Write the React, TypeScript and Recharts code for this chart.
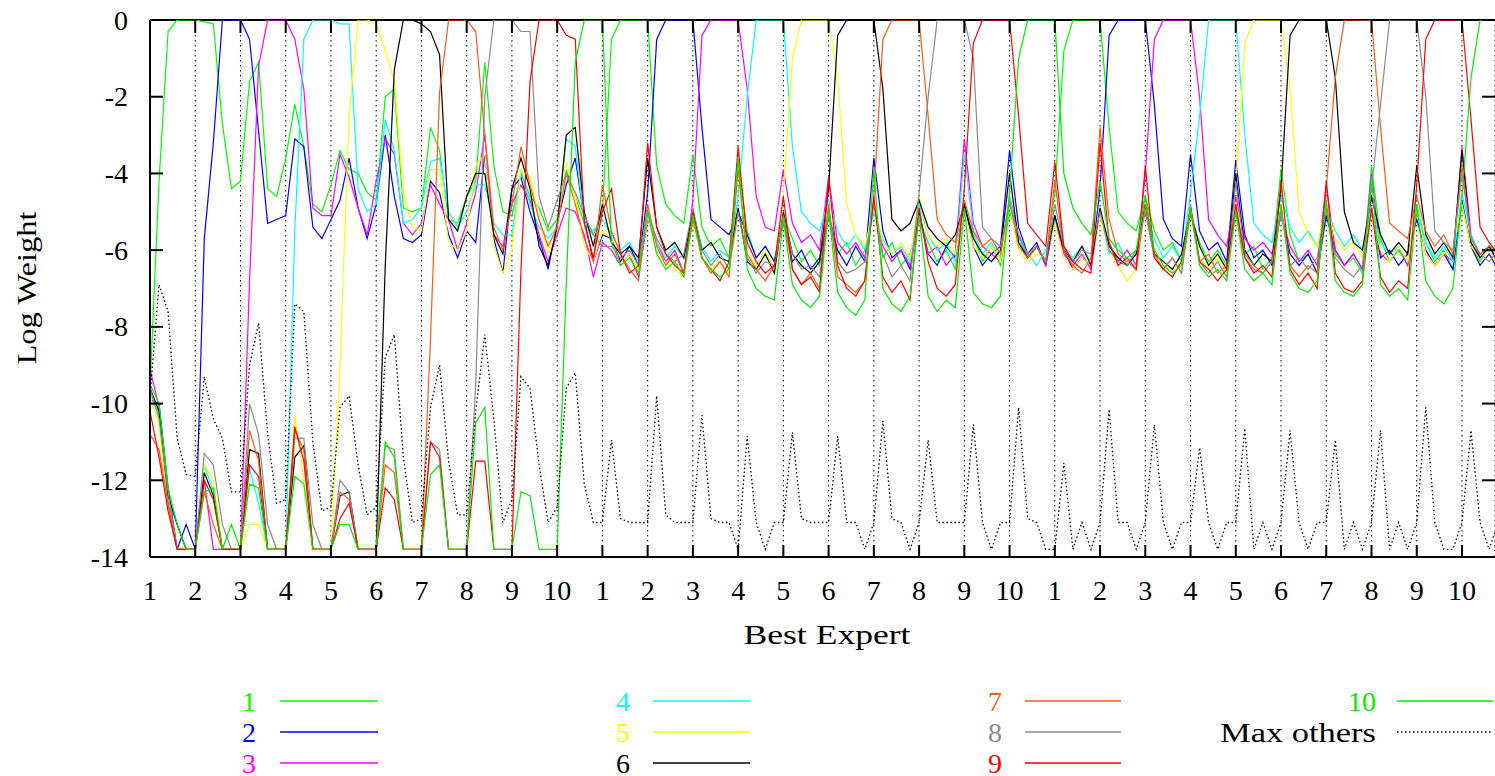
import React from "react";
import { LineChart, Line, XAxis, YAxis, CartesianGrid, Legend, ReferenceLine } from "recharts";

// every weight track is sampled every 0.2 of a "best expert" segment
const STEP = 0.2;

const EXPERT_1 = [
  -9.6, -4.2, -0.3, 0, 0, 0, -0.05, -0.1, -2.7, -4.4,
  -4.2, -1.6, -1.1, -4.4, -4.6, -3.6, -2.2, -3.3, -4.8, -5.0,
  -4.3, -3.4, -3.9, -4.0, -4.5, -4.7, -2.0, -1.8, -4.9, -5.0,
  -4.9, -2.8, -3.4, -5.2, -5.3, -4.6, -4.2, -1.1, -3.8, -5.0,
  -5.1, -4.0, -4.6, -4.9, -5.5, -5.2, -3.9, -4.6, -5.3, -5.6,
  -5.0, -0.5, 0, 0, 0, 0, -3.8, -4.8, -5.1, -5.3,
  -3.5, -5.4, -5.9, -5.7, -6.2, -3.7, -5.5, -6.2, -5.9, -6.3,
  -5.1, -5.7, -6.3, -6.0, -6.4, -5.0, -6.1, -5.8, -6.4, -6.0,
  -4.8, -6.2, -5.8, -6.4, -6.1, -5.2, -5.8, -6.3, -6.0, -6.5,
  -4.9, -5.6, -6.3, -5.9, -6.4, -5.0, -5.7, -6.2, -5.9, -6.3,
  -4.5, -0.8, 0, 0, 0, 0, -2.8, -5.0, -5.3, -5.5,
  -4.6, -5.5, -6.0, -5.8, -6.3, -5.1, -5.8, -6.3, -6.0, -6.4,
  -4.9, -6.1, -5.9, -6.5, -6.2, -3.9, -5.6, -6.3, -6.1, -6.6,
  -5.0, -6.1, -6.4, -6.2, -6.6, -3.8, -5.7, -6.3, -6.0, -6.4,
  -5.0, -5.8, -6.3, -6.0, -6.5, -4.8, -5.9, -6.3, -5.9, -6.4,
];

const EXPERT_2 = [
  -9.9, -10.0, -12.2, -13.8, -13.15, -13.8, -5.7, -3.2, 0, 0,
  0, -0.5, -2.9, -5.3, -5.2, -5.1, -3.1, -3.3, -5.4, -5.7,
  -5.2, -4.7, -3.6, -4.9, -5.7, -4.8, -3.0, -4.6, -5.7, -5.8,
  -5.6, -4.2, -4.5, -5.6, -6.2, -5.5, -5.8, -3.5, -5.7, -6.6,
  -4.4, -4.1, -5.0, -5.7, -6.5, -5.3, -4.3, -3.6, -5.2, -6.3,
  -5.6, -5.7, -6.3, -5.9, -6.4, -4.5, -0.5, 0, 0, 0,
  0, -2.8, -5.2, -5.4, -5.6, -5.0, -5.6, -6.2, -5.9, -6.3,
  -5.2, -6.3, -6.0, -6.5, -6.2, -5.1, -6.0, -6.4, -5.9, -6.3,
  -3.6, -5.5, -6.2, -6.0, -6.5, -5.0, -6.1, -6.4, -5.9, -6.2,
  -4.8, -5.9, -6.4, -6.1, -5.9, -3.4, -5.4, -6.1, -5.8, -6.4,
  -5.1, -6.0, -6.5, -6.2, -6.4, -4.4, -0.4, 0, 0, 0,
  0, -2.2, -5.2, -5.7, -5.9, -3.5, -5.5, -6.0, -5.8, -6.3,
  -3.65, -5.6, -6.2, -6.0, -6.4, -5.0, -6.1, -6.4, -6.1, -6.6,
  -5.1, -6.0, -6.4, -6.1, -6.5, -4.9, -6.2, -6.0, -6.4, -6.1,
  -5.2, -6.0, -6.4, -6.1, -6.5, -4.7, -5.9, -6.4, -6.1, -6.5,
];

const EXPERT_3 = [
  -9.1, -10.1, -12.6, -13.8, -13.8, -13.8, -12.0, -13.8, -13.8, -13.8,
  -13.8, -6.8, -1.2, 0, 0, 0, -0.5, -1.8, -4.9, -5.1,
  -5.1, -3.5, -4.1, -4.9, -5.6, -4.2, -3.1, -3.5, -5.3, -5.6,
  -5.3, -4.3, -4.8, -5.2, -6.0, -5.3, -4.5, -3.0, -5.6, -5.9,
  -4.8, -4.3, -4.7, -5.6, -6.3, -5.6, -4.9, -5.0, -5.6, -6.7,
  -5.8, -6.0, -6.4, -6.1, -6.7, -5.2, -5.8, -6.3, -6.0, -6.6,
  -4.7, -0.4, 0, 0, 0, 0, -1.8, -4.6, -5.4, -5.5,
  -3.9, -5.3, -5.8, -5.6, -6.0, -4.1, -5.8, -6.1, -5.8, -6.2,
  -4.9, -5.9, -6.3, -6.0, -6.4, -5.1, -6.1, -5.9, -6.4, -6.1,
  -3.1, -5.3, -5.9, -6.1, -6.3, -4.6, -5.6, -6.2, -5.9, -6.4,
  -5.2, -6.1, -6.4, -6.1, -6.5, -5.0, -5.8, -6.3, -6.0, -6.4,
  -4.0, -0.5, 0, 0, 0, 0, -2.0, -5.2, -5.6, -5.9,
  -4.6, -5.7, -6.0, -5.8, -6.1, -5.1, -5.9, -6.3, -6.0, -6.4,
  -4.3, -6.0, -6.4, -6.1, -6.5, -4.0, -6.1, -6.3, -5.9, -6.4,
  -4.9, -6.1, -6.4, -6.1, -6.3, -3.3, -5.6, -6.2, -5.9, -6.3,
];

const EXPERT_4 = [
  -9.7, -10.3, -12.5, -13.15, -13.8, -13.8, -11.6, -12.3, -13.8, -13.8,
  -13.8, -11.7, -12.6, -13.8, -13.8, -13.8, -5.5, -0.5, 0, 0,
  0, -0.1, -0.1, -4.4, -5.0, -4.8, -2.6, -3.4, -5.3, -5.2,
  -4.9, -3.7, -3.6, -5.0, -5.4, -5.0, -4.3, -4.3, -5.3, -5.6,
  -5.6, -3.9, -4.8, -5.4, -5.7, -5.4, -3.1, -3.3, -5.3, -5.5,
  -5.2, -5.6, -6.0, -5.8, -6.3, -5.0, -5.8, -6.2, -5.9, -6.2,
  -5.0, -5.9, -6.3, -6.0, -6.2, -4.6, -2.0, 0, 0, 0,
  0, -3.3, -5.0, -5.3, -5.5, -4.7, -5.5, -5.9, -5.6, -6.0,
  -5.0, -5.7, -6.1, -5.9, -6.3, -4.8, -5.6, -6.0, -5.8, -6.3,
  -3.5, -5.5, -6.1, -5.8, -6.2, -4.6, -5.7, -6.1, -6.4, -6.0,
  -5.2, -5.9, -6.2, -5.9, -6.3, -5.0, -6.1, -5.8, -6.4, -6.1,
  -4.9, -5.7, -6.2, -5.9, -6.3, -4.5, -2.5, 0, 0, 0,
  0, -3.0, -5.3, -5.6, -5.8, -4.6, -5.4, -5.8, -5.5, -5.9,
  -4.9, -5.5, -5.9, -5.6, -6.0, -4.9, -5.8, -6.1, -5.9, -6.3,
  -4.8, -5.8, -6.2, -5.9, -6.3, -4.5, -5.6, -6.1, -5.9, -6.1,
];

const EXPERT_5 = [
  -9.8, -10.6, -12.8, -13.8, -13.8, -13.8, -11.6, -12.0, -13.8, -13.8,
  -13.8, -13.15, -13.15, -13.8, -13.8, -13.8, -10.3, -12.0, -13.8, -13.8,
  -13.8, -9.0, -2.5, 0, 0, -0.1, -0.8, -1.6, -4.5, -5.4,
  -5.5, -3.9, -3.9, -5.8, -6.0, -5.5, -3.8, -3.5, -5.9, -6.6,
  -6.0, -3.9, -4.1, -5.2, -6.1, -5.5, -3.7, -4.6, -5.9, -6.3,
  -5.5, -5.7, -6.4, -6.1, -6.5, -5.1, -6.1, -6.3, -6.5, -6.7,
  -5.2, -6.2, -6.5, -6.3, -6.6, -5.0, -6.1, -6.4, -6.0, -6.5,
  -4.5, -1.0, 0, 0, 0, 0, -1.5, -4.8, -5.6, -5.9,
  -4.9, -5.8, -6.1, -5.8, -6.2, -4.6, -5.6, -5.9, -5.7, -6.1,
  -5.0, -5.9, -6.2, -5.9, -6.3, -4.8, -6.0, -6.3, -6.1, -6.2,
  -5.3, -6.2, -6.5, -6.2, -6.4, -5.1, -6.0, -6.4, -6.8, -6.5,
  -4.8, -6.0, -6.4, -6.6, -6.3, -5.0, -6.2, -6.5, -6.2, -6.6,
  -4.3, -0.6, 0, 0, 0, 0, -1.8, -5.0, -5.6, -5.9,
  -4.8, -5.7, -6.0, -5.8, -6.2, -5.0, -6.0, -6.3, -5.9, -6.3,
  -4.9, -6.1, -6.4, -6.1, -5.9, -4.8, -5.9, -6.2, -6.0, -6.4,
];

const EXPERT_6 = [
  -9.6, -10.2, -12.4, -13.15, -13.8, -13.8, -11.8, -12.4, -13.8, -13.8,
  -13.8, -11.2, -11.3, -13.8, -13.8, -13.8, -11.4, -11.1, -13.8, -13.8,
  -13.8, -12.4, -12.3, -13.8, -13.8, -13.8, -6.4, -1.3, 0, 0,
  -0.1, -0.3, -0.9, -5.2, -5.5, -4.6, -4.0, -4.0, -5.6, -6.1,
  -4.4, -3.6, -4.4, -5.9, -6.4, -5.4, -3.0, -2.8, -5.0, -5.9,
  -4.8, -5.8, -6.1, -5.9, -6.2, -3.6, -5.4, -6.0, -5.8, -6.2,
  -5.0, -6.0, -5.8, -6.2, -6.3, -4.9, -6.3, -6.5, -6.1, -6.6,
  -5.0, -6.1, -6.4, -6.6, -6.3, -4.4, -0.4, 0, 0, 0,
  0, -1.8, -5.2, -5.5, -5.3, -4.7, -5.4, -5.7, -5.9, -5.6,
  -4.8, -5.7, -6.1, -6.3, -6.0, -4.0, -5.8, -6.2, -5.9, -6.3,
  -5.1, -6.0, -6.3, -5.9, -6.4, -4.9, -5.9, -6.2, -6.4, -6.1,
  -4.8, -6.1, -6.3, -6.5, -6.1, -5.0, -5.9, -6.4, -6.1, -6.5,
  -4.0, -6.0, -6.4, -6.1, -6.3, -4.4, -0.4, 0, 0, 0,
  0, -1.5, -5.0, -5.8, -6.0, -4.6, -5.6, -6.1, -5.8, -6.1,
  -3.8, -5.6, -6.1, -5.8, -6.2, -3.4, -5.8, -6.2, -5.9, -6.3,
];

const EXPERT_7 = [
  -10.8, -11.2, -12.6, -13.8, -13.8, -13.8, -12.3, -13.15, -13.8, -13.8,
  -13.8, -10.7, -11.5, -13.8, -13.8, -13.8, -10.7, -11.2, -13.8, -13.8,
  -13.8, -12.3, -12.5, -13.8, -13.8, -13.8, -11.6, -11.8, -13.8, -13.8,
  -13.8, -8.3, -1.9, 0, 0, 0, -0.3, -3.0, -5.4, -6.0,
  -4.8, -3.3, -4.3, -5.2, -5.9, -5.4, -4.0, -4.8, -5.7, -6.3,
  -4.3, -5.5, -6.1, -6.5, -6.8, -4.8, -5.9, -6.4, -6.1, -6.6,
  -5.2, -6.2, -6.6, -6.3, -6.7, -3.9, -6.1, -6.5, -6.8, -6.4,
  -5.1, -6.5, -6.9, -6.6, -7.0, -4.8, -6.7, -6.9, -7.1, -6.8,
  -4.6, -0.5, 0, 0, 0, 0, -2.5, -5.2, -5.6, -5.8,
  -4.7, -5.5, -5.9, -5.7, -6.1, -4.7, -5.9, -6.2, -5.9, -6.3,
  -4.2, -6.0, -6.4, -6.6, -6.2, -2.8, -5.2, -6.1, -6.3, -6.5,
  -4.8, -6.1, -6.5, -6.2, -6.6, -5.0, -6.3, -6.1, -6.6, -6.4,
  -5.0, -6.2, -6.5, -6.6, -6.3, -4.9, -6.4, -6.7, -6.4, -6.6,
  -4.4, -1.5, 0, 0, 0, 0, -2.8, -5.3, -5.5, -5.7,
  -4.6, -5.5, -5.9, -5.6, -6.1, -3.8, -5.7, -6.1, -5.9, -6.0,
];

const EXPERT_8 = [
  -9.6, -10.4, -12.3, -13.8, -13.8, -13.8, -11.3, -11.6, -13.15, -13.8,
  -13.8, -10.0, -10.8, -13.15, -13.8, -13.8, -10.9, -10.9, -13.15, -13.8,
  -13.8, -12.0, -12.3, -13.8, -13.8, -13.8, -11.1, -11.2, -13.8, -13.8,
  -13.8, -11.0, -11.2, -13.8, -13.8, -13.8, -9.5, -2.0, 0, 0,
  0, -0.3, -0.3, -4.6, -5.4, -4.7, -4.0, -4.5, -5.1, -5.6,
  -5.9, -5.9, -6.2, -6.0, -6.4, -5.0, -5.7, -6.1, -6.3, -6.1,
  -4.9, -6.0, -6.4, -6.1, -6.5, -5.0, -6.2, -6.6, -6.3, -6.4,
  -5.1, -6.1, -6.5, -6.4, -6.7, -5.0, -6.3, -6.6, -6.5, -6.3,
  -4.8, -6.1, -6.7, -6.4, -6.8, -4.5, -2.0, 0, 0, 0,
  0, -1.0, -5.4, -5.7, -5.9, -4.8, -5.6, -6.1, -5.9, -6.3,
  -4.8, -5.9, -6.3, -6.0, -6.1, -5.0, -6.0, -6.3, -6.4, -6.0,
  -5.0, -6.2, -6.5, -6.2, -6.6, -4.8, -6.3, -6.6, -6.3, -6.7,
  -4.2, -6.1, -6.4, -6.6, -6.3, -5.0, -6.4, -6.2, -6.5, -6.2,
  -4.9, -6.2, -6.5, -6.7, -6.4, -4.4, -2.2, 0, 0, 0,
  0, -2.0, -5.5, -5.8, -6.0, -4.0, -5.7, -6.1, -6.3, -6.0,
];

const EXPERT_9 = [
  -10.2, -11.4, -12.8, -13.8, -13.8, -13.8, -12.0, -12.5, -13.8, -13.8,
  -13.8, -11.6, -11.9, -13.8, -13.8, -13.8, -10.6, -11.5, -13.8, -13.8,
  -13.8, -13.0, -12.6, -13.8, -13.8, -13.8, -12.2, -12.5, -13.8, -13.8,
  -13.8, -11.0, -11.4, -13.8, -13.8, -13.8, -11.5, -11.5, -13.8, -13.8,
  -13.8, -6.5, -1.6, 0, 0, 0, -0.4, -0.5, -5.3, -6.2,
  -5.0, -4.4, -6.1, -6.6, -6.4, -3.2, -5.4, -6.1, -6.4, -6.6,
  -5.0, -6.2, -6.5, -6.8, -6.3, -3.3, -5.8, -6.3, -6.6, -6.4,
  -4.6, -6.5, -6.9, -6.7, -7.1, -4.1, -6.4, -7.0, -7.2, -6.8,
  -4.6, -6.7, -7.1, -6.8, -7.3, -4.9, -6.3, -7.0, -7.2, -6.9,
  -4.4, -0.6, 0, 0, 0, 0, -2.5, -5.3, -5.6, -5.9,
  -3.7, -5.9, -6.3, -6.5, -6.6, -3.2, -5.8, -6.4, -6.2, -6.5,
  -3.8, -6.2, -6.5, -6.7, -6.3, -4.9, -6.3, -6.5, -6.8, -6.5,
  -4.8, -6.2, -6.6, -6.4, -6.7, -4.2, -6.5, -6.9, -6.6, -7.0,
  -4.2, -6.6, -7.0, -7.1, -6.8, -4.9, -6.7, -7.1, -6.8, -7.0,
  -4.3, -0.5, 0, 0, 0, 0, -2.6, -5.4, -5.8, -6.1,
];

const EXPERT_10 = [
  -9.5, -10.0, -12.2, -13.15, -13.8, -13.8, -12.3, -12.2, -13.8, -13.15,
  -13.8, -12.1, -12.2, -13.8, -13.8, -13.8, -11.9, -12.1, -13.8, -13.8,
  -13.8, -13.15, -13.15, -13.8, -13.8, -13.8, -11.0, -11.4, -13.8, -13.8,
  -13.8, -11.85, -11.6, -13.8, -13.8, -13.8, -10.5, -10.1, -13.8, -13.8,
  -13.8, -12.3, -12.4, -13.8, -13.8, -13.8, -6.9, -1.1, 0, 0,
  0, -5.8, -6.4, -6.2, -6.6, -5.0, -6.1, -6.5, -6.3, -6.7,
  -5.1, -6.2, -6.5, -6.7, -6.5, -3.6, -6.5, -7.0, -7.2, -7.3,
  -5.2, -6.9, -7.3, -7.5, -7.2, -5.0, -7.1, -7.5, -7.7, -7.3,
  -3.9, -7.0, -7.4, -7.6, -7.2, -5.1, -7.2, -7.6, -7.3, -7.5,
  -4.9, -7.1, -7.4, -7.5, -7.2, -4.5, -1.0, 0, 0, 0,
  0, -4.0, -4.9, -5.3, -5.6, -4.2, -5.7, -6.0, -6.2, -6.0,
  -4.6, -6.0, -6.4, -6.6, -6.4, -4.9, -6.4, -6.7, -6.5, -6.8,
  -5.0, -6.5, -6.8, -6.6, -6.9, -4.8, -6.6, -7.0, -7.1, -6.8,
  -4.7, -6.8, -7.1, -7.2, -6.9, -4.1, -6.9, -7.2, -7.0, -7.3,
  -4.8, -6.8, -7.2, -7.4, -7.0, -4.6, -1.5, 0, 0, 0,
];

const MAX_OTHERS = [
  -9.8, -6.9, -7.6, -10.9, -11.85, -11.9, -9.3, -10.4, -10.9, -12.3,
  -12.3, -9.0, -7.9, -10.8, -12.6, -12.5, -7.4, -7.6, -11.0, -12.8,
  -12.7, -10.1, -9.8, -11.6, -12.9, -12.7, -8.8, -8.2, -11.4, -13.1,
  -13.0, -10.1, -9.0, -11.5, -12.9, -12.9, -10.2, -8.2, -10.4, -13.1,
  -12.5, -9.3, -9.6, -11.6, -13.1, -12.7, -9.6, -9.2, -12.1, -13.1,
  -13.1, -10.95, -13.0, -13.1, -13.1, -13.1, -9.8, -12.9, -13.1, -13.1,
  -13.1, -10.3, -13.0, -13.1, -13.1, -13.8, -10.85, -13.1, -13.8, -13.1,
  -13.1, -10.75, -13.0, -13.1, -13.1, -13.1, -10.85, -13.1, -13.1, -13.8,
  -13.1, -10.45, -13.0, -13.1, -13.8, -13.1, -10.95, -13.1, -13.1, -13.1,
  -13.1, -10.55, -13.1, -13.8, -13.1, -13.1, -10.1, -13.0, -13.1, -13.8,
  -13.8, -11.55, -13.8, -13.1, -13.8, -13.1, -10.15, -13.1, -13.1, -13.8,
  -13.1, -10.55, -13.1, -13.8, -13.1, -13.1, -11.15, -13.1, -13.8, -13.1,
  -13.1, -10.65, -13.8, -13.1, -13.8, -13.1, -10.7, -13.1, -13.8, -13.1,
  -13.1, -10.95, -13.8, -13.1, -13.8, -13.1, -10.7, -13.8, -13.1, -13.8,
  -13.1, -10.1, -13.1, -13.8, -13.8, -13.1, -10.7, -13.1, -13.8, -13.1,
];

// x ticks sit at the start of each segment, labelled with that segment's best expert
const X_TICKS = [0, 1, 2, 3, 4, 5, 6, 7, 8, 9, 10, 11, 12, 13, 14, 15, 16, 17, 18, 19, 20, 21, 22, 23, 24, 25, 26, 27, 28, 29];
const EXPERT_LABELS = ["1", "2", "3", "4", "5", "6", "7", "8", "9", "10"];
const Y_TICKS = [-14, -12, -10, -8, -6, -4, -2, 0];
const X_MAX = 29.73;

const SERIES = [
  { key: "e1", name: "1", color: "#00ff00", values: EXPERT_1 },
  { key: "e2", name: "2", color: "#0000ff", values: EXPERT_2 },
  { key: "e3", name: "3", color: "#ff00ff", values: EXPERT_3 },
  { key: "e4", name: "4", color: "#00ffff", values: EXPERT_4 },
  { key: "e5", name: "5", color: "#ffff00", values: EXPERT_5 },
  { key: "e6", name: "6", color: "#000000", values: EXPERT_6 },
  { key: "e7", name: "7", color: "#ff5a14", values: EXPERT_7 },
  { key: "e8", name: "8", color: "#8a8a8a", values: EXPERT_8 },
  { key: "e9", name: "9", color: "#ff0000", values: EXPERT_9 },
  { key: "e10", name: "10", color: "#00ee00", values: EXPERT_10 },
  { key: "max", name: "Max others", color: "#000000", values: MAX_OTHERS, dash: "1.5 2.5" },
];

const rows = EXPERT_1.map((_, i) => {
  const row: Record<string, number> = { t: Math.round(i * STEP * 10) / 10 };
  SERIES.forEach((s) => {
    row[s.key] = s.values[i];
  });
  return row;
});

// page layout
const W = 1495;
const H = 776;
const PLOT_LEFT = 150;
const PLOT_TOP = 20;
const PLOT_RIGHT = 1495;
const PLOT_BOTTOM = 557;
const XAXIS_H = 60;
const YAXIS_W = 60;
const FONT = "'Liberation Serif', 'Times New Roman', serif";
const FONT_SIZE = 28;

const XTick = (props: any) => {
  const { x, payload } = props;
  const label = EXPERT_LABELS[Math.round(payload.value) % 10];
  return (
    <g>
      <line x1={x} x2={x} y1={PLOT_BOTTOM} y2={PLOT_BOTTOM - 12} stroke="#000" strokeWidth={2} />
      <line x1={x} x2={x} y1={PLOT_TOP} y2={PLOT_TOP + 13} stroke="#000" strokeWidth={2} />
      <text x={x} y={600} textAnchor="middle" fontSize={FONT_SIZE} fontFamily={FONT} fill="#000">
        {label}
      </text>
    </g>
  );
};

const YTick = (props: any) => {
  const { y, payload } = props;
  return (
    <g>
      <line x1={PLOT_LEFT} x2={PLOT_LEFT + 13} y1={y} y2={y} stroke="#000" strokeWidth={2} />
      <line x1={PLOT_RIGHT - 13} x2={PLOT_RIGHT} y1={y} y2={y} stroke="#000" strokeWidth={2} />
      <text x={128} y={y + 9.5} textAnchor="end" fontSize={FONT_SIZE} fontFamily={FONT} fill="#000">
        {payload.value}
      </text>
    </g>
  );
};

// legend is laid out in four columns of up to three rows
const LEGEND_COLS = [
  { textRight: 256, x1: 280, x2: 378 },
  { textRight: 630, x1: 653, x2: 750 },
  { textRight: 1002, x1: 1025, x2: 1121 },
  { textRight: 1376, x1: 1397, x2: 1493 },
];
const LEGEND_ROWS = [701, 732, 763];

const LegendBlock = () => (
  <svg
    width={W}
    height={H}
    style={{ position: "absolute", left: 0, top: 0, overflow: "visible", pointerEvents: "none" }}
  >
    {SERIES.map((s, i) => {
      const col = LEGEND_COLS[Math.min(Math.floor(i / 3), 3)];
      const row = LEGEND_ROWS[i < 9 ? i % 3 : i - 9];
      const isMax = s.key === "max";
      return (
        <g key={s.key}>
          <text
            x={col.textRight}
            y={row + 9.5}
            textAnchor="end"
            fontSize={FONT_SIZE}
            fontFamily={FONT}
            fill={s.color}
            {...(isMax ? { textLength: 156, lengthAdjust: "spacingAndGlyphs" } : {})}
          >
            {s.name}
          </text>
          <line
            x1={col.x1}
            x2={col.x2}
            y1={row}
            y2={row}
            stroke={s.color}
            strokeWidth={1.5}
            strokeDasharray={s.dash}
          />
        </g>
      );
    })}
  </svg>
);

export default function App() {
  return (
    <div style={{ position: "absolute", left: 0, top: 0, width: W, height: H, background: "#fff" }}>
      <LineChart
        width={W}
        height={H}
        data={rows}
        margin={{
          top: PLOT_TOP,
          right: W - PLOT_RIGHT,
          bottom: H - PLOT_BOTTOM - XAXIS_H,
          left: PLOT_LEFT - YAXIS_W,
        }}
      >
        <CartesianGrid horizontal={false} stroke="#000" strokeDasharray="1.5 3.5" strokeWidth={1} />
        <XAxis
          dataKey="t"
          type="number"
          domain={[0, X_MAX]}
          allowDataOverflow
          ticks={X_TICKS}
          interval={0}
          height={XAXIS_H}
          tick={<XTick />}
          tickLine={false}
          axisLine={{ stroke: "#000", strokeWidth: 2 }}
          label={() => (
            <text
              x={827}
              y={644}
              textAnchor="middle"
              fontSize={FONT_SIZE}
              fontFamily={FONT}
              fill="#000"
              textLength={167}
              lengthAdjust="spacingAndGlyphs"
            >
              Best Expert
            </text>
          )}
        />
        <YAxis
          type="number"
          domain={[-14, 0]}
          allowDataOverflow
          ticks={Y_TICKS}
          interval={0}
          width={YAXIS_W}
          tick={<YTick />}
          tickLine={false}
          axisLine={{ stroke: "#000", strokeWidth: 2 }}
          label={() => (
            <text
              transform="translate(36, 288) rotate(-90)"
              textAnchor="middle"
              fontSize={FONT_SIZE}
              fontFamily={FONT}
              fill="#000"
              textLength={153}
              lengthAdjust="spacingAndGlyphs"
            >
              Log Weight
            </text>
          )}
        />
        <ReferenceLine y={0} stroke="#000" strokeWidth={2} />
        {SERIES.map((s) => (
          <Line
            key={s.key}
            type="linear"
            dataKey={s.key}
            name={s.name}
            stroke={s.color}
            strokeWidth={s.dash ? 1.3 : 1.2}
            strokeDasharray={s.dash}
            dot={false}
            activeDot={false}
            isAnimationActive={false}
          />
        ))}
        <Legend
          verticalAlign="top"
          content={() => <LegendBlock />}
          wrapperStyle={{ position: "absolute", left: 0, top: 0, width: 0, height: 0, overflow: "visible" }}
        />
      </LineChart>
    </div>
  );
}
